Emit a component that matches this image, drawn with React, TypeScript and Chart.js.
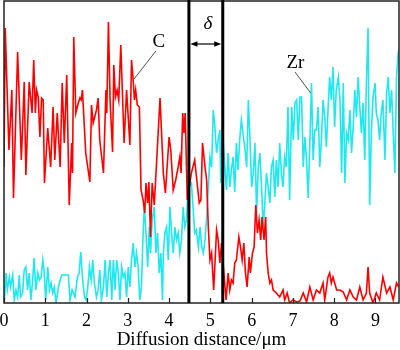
import React, { useEffect, useRef } from "react";
import { Chart, registerables } from "chart.js";

Chart.register(...registerables);

// Diffusion distance (µm) and intensity (arbitrary units) of the C line scan
const cX = [0.00,0.03,0.12,0.19,0.23,0.33,0.42,0.49,0.53,0.61,0.68,0.72,0.76,0.79,0.83,0.87,0.91,0.95,0.98,1.06,1.13,1.19,1.23,1.29,1.36,1.41,1.46,1.52,1.58,1.64,1.66,1.69,1.74,1.80,1.84,1.87,1.90,1.98,2.08,2.12,2.16,2.24,2.28,2.32,
  2.41,2.47,2.49,2.53,2.57,2.63,2.66,2.70,2.74,2.78,2.83,2.91,2.97,3.05,3.09,3.13,3.16,3.19,3.23,3.28,3.32,3.37,3.41,3.44,3.48,3.51,3.55,3.59,3.64,3.70,3.78,3.86,3.91,4.00,4.04,4.10,4.16,4.22,4.26,4.29,4.33,4.36,4.39,4.44,4.54,4.62,4.73,
  4.77,4.81,4.87,4.91,4.95,4.99,5.03,5.08,5.15,5.19,5.23,5.27,5.38,5.43,5.47,5.51,5.55,5.59,5.63,5.69,5.73,5.77,5.81,5.85,5.89,5.94,5.97,6.02,6.06,6.10,6.14,6.18,6.22,6.25,6.30,6.34,6.36,6.40,6.44,6.48,6.52,6.60,6.68,6.76,6.80,6.86,6.92,7.00,7.09,7.17,
  7.25,7.33,7.41,7.49,7.57,7.65,7.73,7.77,7.85,7.89,7.93,7.97,8.06,8.14,8.22,8.30,8.38,8.46,8.54,8.62,8.70,8.78,8.82,8.86,8.94,9.02,9.10,9.18,9.27,9.35,9.43,9.51,9.56];
const cY = [136,275,153,213,105,251,143,221,128,221,190,243,190,213,206,166,205,203,120,175,136,196,143,190,136,220,160,228,98,160,130,266,190,200,205,203,213,150,121,198,180,193,205,163,
  130,213,190,281,203,151,238,206,213,203,258,160,213,158,243,223,203,213,198,196,113,103,90,120,100,121,66,120,98,143,205,130,110,166,153,113,123,136,146,130,190,170,190,103,130,143,100,
  103,160,136,123,76,43,50,13,73,63,40,60,3,30,13,23,20,40,43,66,56,43,60,30,16,46,30,50,56,98,70,83,63,86,63,86,50,30,20,23,13,10,6,13,3,10,0,3,1,2,
  10,1,16,3,13,10,20,3,26,30,20,26,13,13,11,3,13,6,3,16,3,10,36,10,0,10,3,26,10,16,3,20,16];

// Zr line scan
const zrX = [0.01,0.05,0.08,0.13,0.16,0.21,0.25,0.29,0.33,0.37,0.40,0.45,0.49,0.53,0.57,0.61,0.65,0.69,0.73,0.77,0.82,0.86,0.90,0.94,0.97,1.01,1.06,1.10,1.14,1.18,1.22,1.26,1.32,1.36,1.40,1.45,1.52,1.56,1.60,1.65,1.72,1.78,1.82,1.86,1.90,1.95,1.99,2.03,2.07,2.11,2.15,2.19,2.24,2.28,2.32,
  2.36,2.41,2.45,2.49,2.53,2.57,2.61,2.65,2.69,2.73,2.77,2.81,2.85,2.89,2.93,2.97,3.01,3.05,3.09,3.13,3.17,3.21,3.25,3.29,3.33,3.37,3.40,3.44,3.48,3.52,3.55,3.59,3.64,3.68,3.72,3.76,3.80,3.84,3.86,3.90,3.94,3.98,4.02,4.06,4.10,4.14,4.18,4.22,4.26,4.30,4.34,4.38,4.42,4.46,4.54,4.58,4.62,4.66,4.71,4.75,
  4.79,4.83,4.87,4.91,4.95,4.99,5.03,5.07,5.11,5.15,5.19,5.23,5.25,5.29,5.35,5.39,5.43,5.47,5.51,5.55,5.59,5.63,5.67,5.71,5.75,5.79,5.84,5.88,5.92,5.96,6.00,6.04,6.08,6.12,6.16,6.20,6.24,6.28,6.32,6.36,6.40,6.44,6.48,6.52,6.56,6.60,6.64,6.68,6.72,6.76,6.80,6.84,6.88,6.92,6.97,7.01,7.05,7.09,7.13,7.17,
  7.21,7.25,7.29,7.33,7.37,7.41,7.45,7.49,7.53,7.57,7.61,7.65,7.69,7.73,7.77,7.81,7.85,7.89,7.93,7.97,8.01,8.05,8.10,8.14,8.18,8.22,8.26,8.30,8.34,8.38,8.42,8.46,8.50,8.54,8.58,8.62,8.66,8.70,8.74,8.78,8.82,8.86,8.90,8.94,8.99,9.02,9.06,9.10,9.14,9.18,9.23,9.27,9.31,9.35,9.39,9.43,9.47,9.51,9.55,9.57];
const zrY = [3,30,13,26,16,28,3,13,6,28,6,10,33,36,13,30,3,20,45,13,30,23,26,43,33,3,36,13,20,10,16,0,16,23,28,28,28,28,3,13,6,26,30,51,26,6,3,16,36,23,43,20,6,13,33,
  3,16,43,6,30,43,3,43,13,43,30,3,36,26,30,6,36,16,43,60,36,50,36,3,16,70,96,70,36,76,50,83,96,50,70,30,50,3,50,70,76,43,96,70,50,76,63,70,50,63,96,76,83,116,120,96,70,73,56,76,
  56,50,63,86,116,146,136,193,176,150,163,173,120,176,136,113,150,116,133,146,111,160,133,163,183,170,153,136,203,163,116,130,160,90,136,150,116,76,100,130,116,100,136,143,106,143,116,160,130,116,146,136,196,103,196,163,200,203,163,206,
  206,136,166,143,105,160,220,143,173,173,196,136,163,203,186,156,193,226,203,236,176,213,226,203,130,220,120,170,163,193,150,176,213,186,226,196,170,200,143,220,275,98,170,206,220,190,183,163,190,203,143,210,226,190,213,170,130,226,250,253];

const xTicks = [0, 1, 2, 3, 4, 5, 6, 7, 8, 9];
const X_MAX = 9.57;
const Y_MAX = 302;
const deltaBounds = [4.48, 5.3];

const SERIF = "'Liberation Serif', 'Times New Roman', serif";

const overlay = {
  id: "overlay",
  afterDatasetsDraw(chart: any) {
    const { ctx, chartArea: a, scales } = chart;
    const x = scales.x;
    const y = scales.y;
    ctx.save();
    // frame
    ctx.strokeStyle = "#222";
    ctx.lineWidth = 1.5;
    ctx.strokeRect(a.left, a.top, a.right - a.left, a.bottom - a.top);
    // inward ticks
    ctx.lineWidth = 1.2;
    xTicks.forEach((t) => {
      const px = Math.round(x.getPixelForValue(t)) + 0.5;
      ctx.beginPath();
      ctx.moveTo(px, a.bottom);
      ctx.lineTo(px, a.bottom - 5);
      ctx.stroke();
    });
    // boundary lines
    ctx.strokeStyle = "#000";
    ctx.lineWidth = 3;
    const bx = deltaBounds.map((v) => x.getPixelForValue(v));
    bx.forEach((px) => {
      ctx.beginPath();
      ctx.moveTo(px, a.top - 1);
      ctx.lineTo(px, a.bottom);
      ctx.stroke();
    });
    // double arrow
    const ay = y.getPixelForValue(259);
    const l = bx[0] + 1.5;
    const r = bx[1] - 1.5;
    ctx.lineWidth = 1.2;
    ctx.beginPath();
    ctx.moveTo(l + 3, ay);
    ctx.lineTo(r - 3, ay);
    ctx.stroke();
    ctx.fillStyle = "#000";
    ctx.beginPath();
    ctx.moveTo(l, ay);
    ctx.lineTo(l + 7, ay - 2.8);
    ctx.lineTo(l + 7, ay + 2.8);
    ctx.closePath();
    ctx.fill();
    ctx.beginPath();
    ctx.moveTo(r, ay);
    ctx.lineTo(r - 7, ay - 2.8);
    ctx.lineTo(r - 7, ay + 2.8);
    ctx.closePath();
    ctx.fill();
    // delta
    ctx.textAlign = "center";
    ctx.textBaseline = "middle";
    ctx.font = `italic 19px ${SERIF}`;
    ctx.fillText("δ", x.getPixelForValue(4.94), y.getPixelForValue(279));
    // labels with leaders
    ctx.font = `19px ${SERIF}`;
    ctx.fillText("C", x.getPixelForValue(3.75), y.getPixelForValue(261));
    ctx.fillText("Zr", x.getPixelForValue(7.06), y.getPixelForValue(240));
    ctx.lineWidth = 0.8;
    ctx.strokeStyle = "#222";
    ctx.beginPath();
    ctx.moveTo(x.getPixelForValue(3.68), y.getPixelForValue(252));
    ctx.lineTo(x.getPixelForValue(3.15), y.getPixelForValue(224));
    ctx.moveTo(x.getPixelForValue(7.05), y.getPixelForValue(231));
    ctx.lineTo(x.getPixelForValue(7.43), y.getPixelForValue(210));
    ctx.stroke();
    ctx.restore();
  },
};

export default function App() {
  const ref = useRef<HTMLCanvasElement | null>(null);
  useEffect(() => {
    document.body.style.margin = "0";
    const canvas = ref.current;
    if (!canvas) return;
    const chart = new Chart(canvas, {
      type: "line",
      data: {
        datasets: [
          {
            label: "C",
            data: cX.map((v, i) => ({ x: v, y: cY[i] })),
            borderColor: "#ff0000",
            borderWidth: 1.6,
            pointRadius: 0,
            tension: 0,
            fill: false,
          },
          {
            label: "Zr",
            data: zrX.map((v, i) => ({ x: v, y: zrY[i] })),
            borderColor: "#1ee8f0",
            borderWidth: 1.6,
            pointRadius: 0,
            tension: 0,
            fill: false,
          },
        ],
      },
      options: {
        responsive: false,
        animation: false,
        devicePixelRatio: 1,
        layout: { padding: { left: 4, right: 1, top: 1, bottom: 0 } },
        plugins: { legend: { display: false }, tooltip: { enabled: false } },
        scales: {
          x: {
            type: "linear",
            min: 0,
            max: X_MAX,
            grid: { display: false, drawTicks: false },
            border: { display: false },
            ticks: {
              stepSize: 1,
              includeBounds: false,
              autoSkip: false,
              maxRotation: 0,
              padding: 7,
              color: "#000",
              font: { family: SERIF, size: 18 },
            },
            title: {
              display: true,
              text: "Diffusion distance/μm",
              color: "#000",
              font: { family: SERIF, size: 19, lineHeight: 1 },
              padding: { top: 0, bottom: 0 },
            },
            afterFit: (s: any) => {
              s.height = 47;
              s.paddingLeft = 0;
              s.paddingRight = 0;
            },
          },
          y: { display: false, min: 0, max: Y_MAX },
        },
      },
      plugins: [overlay],
    } as any);
    return () => chart.destroy();
  }, []);
  return <canvas ref={ref} width={400} height={350} style={{ display: "block" }} />;
}
